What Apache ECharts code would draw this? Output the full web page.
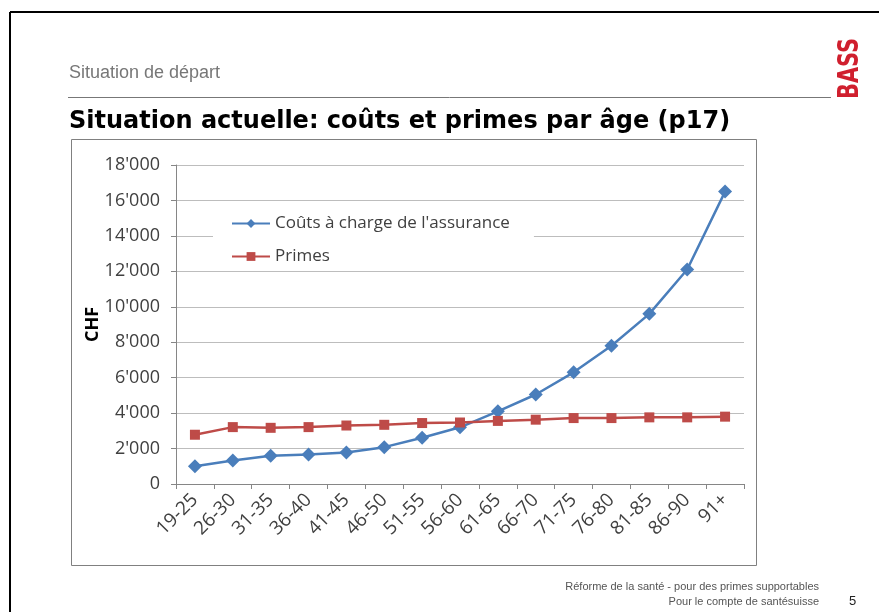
<!DOCTYPE html>
<html>
<head>
<meta charset="utf-8">
<script src="https://cdn.jsdelivr.net/npm/echarts@6/dist/echarts.min.js"></script>
<style>
    html, body { margin: 0; padding: 0; background: #fff; }
    #chart { width: 879px; height: 612px; }
</style>
</head>
<body>
<div id="chart"></div>
<script>
// tranches d'âge (axe x)
var categories = ['19-25', '26-30', '31-35', '36-40', '41-45', '46-50', '51-55', '56-60',
                  '61-65', '66-70', '71-75', '76-80', '81-85', '86-90', '91+'];
// coûts à charge de l'assurance (CHF)
var couts  = [1000, 1330, 1600, 1670, 1780, 2080, 2610, 3200, 4100, 5050, 6300, 7800, 9600, 12100, 16500];
// primes (CHF)
var primes = [2780, 3210, 3170, 3210, 3300, 3340, 3440, 3470, 3560, 3630, 3720, 3720, 3760, 3760, 3800];
var seriesNames = ["Coûts à charge de l'assurance", 'Primes'];

// 18000 -> 18'000
function fmtCHF( v ) {
    return String(v).replace(/\B(?=(\d{3})+(?!\d))/g, "'");
}

var myChart = echarts.init(document.getElementById('chart'), null, { renderer: 'canvas' });
var axisFont = '"Open Sans", "Noto Sans", sans-serif';
var slideFont = '"Liberation Sans", Arial, sans-serif';

var option = {
    backgroundColor: '#fff',
    animation: false,
    title: [
        {
            text: 'Situation de départ',
            left: 64, top: 59,
            textStyle: { fontFamily: slideFont, fontSize: 18, fontWeight: 'normal', color: '#777' }
        },
        {
            text: 'Situation actuelle: coûts et primes par âge (p17)',
            left: 64, top: 105,
            textStyle: { fontFamily: '"DejaVu Sans", sans-serif', fontSize: 24, fontWeight: 'bold', color: '#000' }
        },
        {
            text: 'Réforme de la santé - pour des primes supportables',
            right: 55, top: 576,
            textStyle: { fontFamily: slideFont, fontSize: 11, fontWeight: 'normal', color: '#555' }
        },
        {
            text: 'Pour le compte de santésuisse',
            right: 55, top: 591,
            textStyle: { fontFamily: slideFont, fontSize: 11, fontWeight: 'normal', color: '#555' }
        },
        {
            text: '5',
            left: 844, top: 590,
            textStyle: { fontFamily: slideFont, fontSize: 13, fontWeight: 'normal', color: '#222' }
        }
    ],
    graphic: [
        // cadre noir de la diapo
        { type: 'line', shape: { x1: 10, y1: 12, x2: 879, y2: 12 }, style: { stroke: '#000', lineWidth: 2 } },
        { type: 'line', shape: { x1: 10, y1: 12, x2: 10, y2: 612 }, style: { stroke: '#000', lineWidth: 2 } },
        // ligne sous "Situation de départ"
        { type: 'line', shape: { x1: 68, y1: 97.5, x2: 831, y2: 97.5 }, style: { stroke: '#777', lineWidth: 1 } },
        // cadre du graphique
        { type: 'rect', shape: { x: 71.5, y: 139.5, width: 685, height: 426 }, style: { fill: null, stroke: '#808080', lineWidth: 1 }, z: -1 },
        // logo BASS (vertical, de bas en haut)
        {
            type: 'text', x: 836, y: 99, rotation: Math.PI / 2, scaleX: 0.8,
            style: {
                text: 'BASS', fill: '#d01f2e',
                font: 'bold 29px "Liberation Sans Narrow", "DejaVu Sans Condensed", sans-serif',
                textAlign: 'left', textVerticalAlign: 'top'
            }
        }
    ],
    legend: {
        data: seriesNames,
        orient: 'vertical',
        left: 213, top: 209,
        padding: [6, 24, 6, 18],
        backgroundColor: '#fff',
        itemWidth: 38, itemHeight: 11, itemGap: 16,
        textStyle: { fontFamily: axisFont, fontSize: 17, color: '#404040' }
    },
    grid: { left: 176, right: 135, top: 165, bottom: 128, containLabel: false },
    xAxis: {
        type: 'category',
        data: categories,
        boundaryGap: true,
        axisLine: { lineStyle: { color: '#868686', width: 1 } },
        axisTick: { show: true, interval: 0, length: 5, lineStyle: { color: '#868686' } },
        axisLabel: { interval: 0, rotate: 45, margin: 13, fontFamily: axisFont, fontSize: 19, color: '#404040' },
        splitLine: { show: false }
    },
    yAxis: {
        type: 'value',
        min: 0, max: 18000, interval: 2000,
        name: 'CHF',
        nameLocation: 'middle',
        nameRotate: 90,
        nameGap: 74,
        nameMoveOverlap: false,
        nameTextStyle: { fontFamily: axisFont, fontSize: 18, fontWeight: 'bold', color: '#000' },
        axisLine: { show: true, lineStyle: { color: '#868686', width: 1 } },
        axisTick: { show: true, length: 5, lineStyle: { color: '#868686' } },
        axisLabel: { margin: 16, fontFamily: axisFont, fontSize: 18, color: '#404040', formatter: fmtCHF },
        splitLine: { lineStyle: { color: '#bdbdbd', width: 1 } }
    },
    series: [
        {
            name: seriesNames[0],
            type: 'line',
            data: couts,
            symbol: 'diamond',
            symbolSize: 14,
            itemStyle: { color: '#4a7ebb' },
            lineStyle: { color: '#4a7ebb', width: 2.5 }
        },
        {
            name: seriesNames[1],
            type: 'line',
            data: primes,
            symbol: 'rect',
            symbolSize: 10,
            itemStyle: { color: '#be4b48' },
            lineStyle: { color: '#be4b48', width: 2.5 }
        }
    ]
};
myChart.setOption(option);
</script>
</body>
</html>
